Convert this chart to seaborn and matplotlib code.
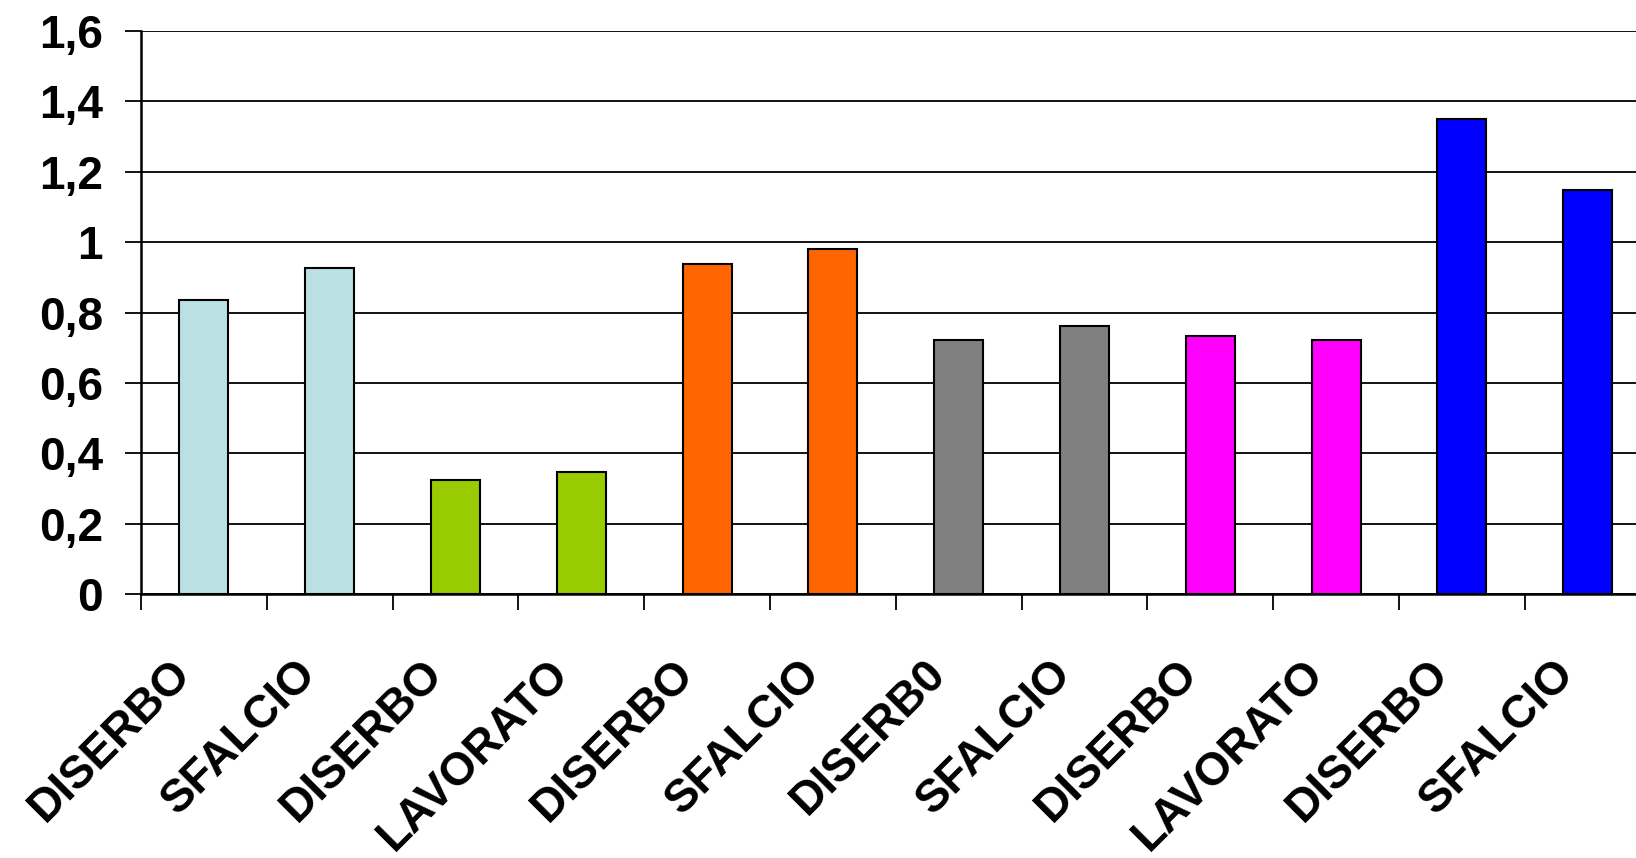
import matplotlib
matplotlib.use('Agg')
import matplotlib.pyplot as plt
import matplotlib.transforms as mtransforms
import pandas as pd
import seaborn as sns

# data
labels = ['DISERBO', 'SFALCIO', 'DISERBO', 'LAVORATO', 'DISERBO', 'SFALCIO',
          'DISERB0', 'SFALCIO', 'DISERBO', 'LAVORATO', 'DISERBO', 'SFALCIO']
values = [0.835, 0.926, 0.326, 0.347, 0.937, 0.982,
          0.722, 0.762, 0.733, 0.722, 1.350, 1.148]
bar_colors = ['#BBE0E3', '#BBE0E3', '#99CC00', '#99CC00', '#FF6600', '#FF6600',
              '#808080', '#808080', '#FF00FF', '#FF00FF', '#0000FF', '#0000FF']
y_ticks = [0, 0.2, 0.4, 0.6, 0.8, 1.0, 1.2, 1.4, 1.6]
y_tick_labels = ['0', '0,2', '0,4', '0,6', '0,8', '1', '1,2', '1,4', '1,6']

sns.set_style('white')
plt.rcParams['font.family'] = ['Liberation Sans', 'DejaVu Sans']
plt.rcParams['text.color'] = 'black'

df = pd.DataFrame({'pos': [str(i) for i in range(len(values))], 'value': values})

fig = plt.figure(figsize=(16.36, 8.58), dpi=100)
ax = fig.add_axes([0.0862, 0.3073, 0.9227, 0.6566])

sns.barplot(data=df, x='pos', y='value', hue='pos', palette=bar_colors,
            order=df['pos'], hue_order=df['pos'], width=0.39, legend=False,
            edgecolor='black', linewidth=1.5, saturation=1, ax=ax, zorder=3)

ax.set_xlim(-0.5, len(values) - 0.5)
ax.set_ylim(0, 1.6)
ax.set_yticks(y_ticks)
ax.set_yticklabels(y_tick_labels, fontsize=33, fontweight='bold', color='black')
ax.set_xticks(range(len(values)))
ax.set_xticklabels(labels, fontsize=33, fontweight='bold', rotation=45, ha='right',
                   color='black')
ax.set_xticks([i - 0.5 for i in range(len(values) + 1)], minor=True)
ax.set_xlabel('')
ax.set_ylabel('')

ax.yaxis.grid(True, color='black', linewidth=1.3, zorder=0)
ax.set_axisbelow(True)
ax.tick_params(axis='y', which='major', direction='out', length=11.5, width=1.3,
               color='black', pad=16, left=True)
ax.tick_params(axis='x', which='major', length=0, pad=41)
ax.tick_params(axis='x', which='minor', direction='out', length=11.5, width=1.3,
               color='black', bottom=True)

# shift the rotated labels a little to the left of the bar centre
offset = mtransforms.ScaledTranslation(-4 / 100, 0, fig.dpi_scale_trans)
for lbl in ax.get_xticklabels():
    lbl.set_transform(lbl.get_transform() + offset)

for side in ['top', 'right']:
    ax.spines[side].set_visible(False)
for side in ['left', 'bottom']:
    ax.spines[side].set_color('black')
    ax.spines[side].set_linewidth(1.8)

fig.savefig('out.png', dpi=100)
